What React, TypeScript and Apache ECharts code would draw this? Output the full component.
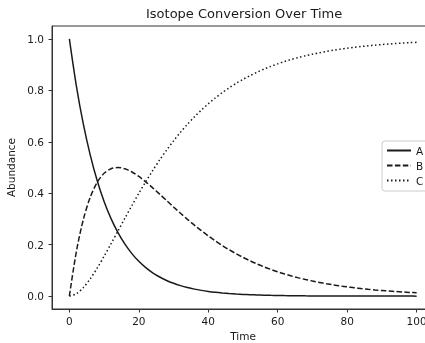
import React, { useEffect, useRef } from "react";
import * as echarts from "echarts";

const time = [0,2,4,6,8,10,12,14,16,18,20,22,24,26,28,30,32,34,36,38,40,42,44,46,48,50,52,54,56,58,60,62,64,66,68,70,72,74,76,78,80,82,84,86,88,90,92,94,96,98,100];
const seriesA = [1,0.8187,0.6703,0.5488,0.4493,0.3679,0.3012,0.2466,0.2019,0.1653,0.1353,0.1108,0.0907,0.0743,0.0608,0.0498,0.0408,0.0334,0.0273,0.0224,0.0183,0.0150,0.0123,0.0101,0.0082,0.0067,0.0055,0.0045,0.0037,0.0030,0.0025,0.0020,0.0017,0.0014,0.0011,0.0009,0.0007,0.0006,0.0005,0.0004,0.0003,0.0003,0.0002,0.0002,0.0002,0.0001,0.0001,0.0001,0.0001,0.0001,0];
const seriesB = [0,0.1722,0.2968,0.3840,0.4420,0.4773,0.4952,0.5000,0.4948,0.4826,0.4651,0.4442,0.4210,0.3964,0.3716,0.3466,0.3222,0.2986,0.2760,0.2544,0.2340,0.2150,0.1970,0.1804,0.1650,0.1508,0.1376,0.1254,0.1142,0.1040,0.0946,0.0860,0.0782,0.0710,0.0646,0.0586,0.0532,0.0482,0.0438,0.0396,0.0360,0.0326,0.0296,0.0268,0.0242,0.0220,0.0200,0.0180,0.0162,0.0146,0.0134];
const seriesC = [0,0.0091,0.0329,0.0672,0.1087,0.1548,0.2036,0.2534,0.3033,0.3521,0.3996,0.4450,0.4883,0.5293,0.5676,0.6036,0.6370,0.6680,0.6967,0.7232,0.7477,0.7700,0.7907,0.8095,0.8268,0.8425,0.8569,0.8701,0.8821,0.8930,0.9029,0.9120,0.9201,0.9276,0.9343,0.9405,0.9461,0.9512,0.9557,0.9600,0.9637,0.9671,0.9702,0.9730,0.9756,0.9779,0.9799,0.9819,0.9837,0.9853,0.9866];
const xTicks = [0, 20, 40, 60, 80, 100];
const yTicks = [0, 0.2, 0.4, 0.6, 0.8, 1.0];
const names = ["A", "B", "C"];

const FONT = "DejaVu Sans";
const INK = "#1a1a1a";
const SPINE = "#333";

export default function App() {
  const ref = useRef<HTMLDivElement>(null);
  useEffect(() => {
    if (!ref.current) return;
    const chart = echarts.init(ref.current, undefined, { renderer: "svg" });
    const mk = (vals: number[]) => time.map((t, i) => [t, vals[i]]);
    const styles: any[] = ["solid", [5.5, 2.4], [1.5, 2.5]];
    const all = [seriesA, seriesB, seriesC];
    chart.setOption({
      animation: false,
      title: {
        text: "Isotope Conversion Over Time",
        left: 146,
        top: 5,
        padding: [2, 0, 2, 0],
        textStyle: { fontFamily: FONT, fontSize: 13, fontWeight: "normal", color: INK },
      },
      grid: {
        left: 52, right: -9, top: 26, bottom: 34,
        containLabel: false,
        outerBoundsMode: "none",
        show: true, borderColor: SPINE, borderWidth: 1, backgroundColor: "transparent",
      },
      legend: {
        orient: "vertical",
        left: 382,
        top: 141,
        itemWidth: 24,
        itemHeight: 10,
        itemGap: 4,
        padding: [4, 6, 5, 4],
        backgroundColor: "#fff",
        borderColor: "#ccc",
        borderWidth: 1,
        borderRadius: 3,
        itemStyle: { opacity: 0 },
        textStyle: { fontFamily: FONT, fontSize: 10.5, color: INK },
        data: names,
      },
      xAxis: {
        type: "value",
        min: -5,
        max: 105,
        name: "Time",
        nameLocation: "middle",
        nameGap: 20,
        nameTextStyle: { fontFamily: FONT, fontSize: 10.5, color: INK },
        axisLine: { show: true, onZero: false, lineStyle: { color: SPINE, width: 1 } },
        axisTick: { show: true, length: 3.5, lineStyle: { color: SPINE }, customValues: xTicks },
        axisLabel: { fontFamily: FONT, fontSize: 10.5, color: INK, margin: 6, customValues: xTicks },
        splitLine: { show: false },
      },
      yAxis: {
        type: "value",
        min: -0.05,
        max: 1.05,
        name: "Abundance",
        nameLocation: "middle",
        nameGap: 27,
        nameTextStyle: { fontFamily: FONT, fontSize: 10.5, color: INK },
        axisLine: { show: true, onZero: false, lineStyle: { color: SPINE, width: 1 } },
        axisTick: { show: true, length: 3.5, lineStyle: { color: SPINE }, customValues: yTicks },
        axisLabel: { fontFamily: FONT, fontSize: 10.5, color: INK, margin: 8, customValues: yTicks, formatter: (v: number) => v.toFixed(1) },
        splitLine: { show: false },
      },
      series: names.map((n, i) => ({
        name: n,
        type: "line",
        data: mk(all[i]),
        showSymbol: false,
        symbol: "none",
        smooth: 0.3,
        lineStyle: { color: INK, width: 1.5, type: styles[i] },
        itemStyle: { color: INK },
      })),
    });
    return () => chart.dispose();
  }, []);
  return <div ref={ref} style={{ position: "fixed", left: 0, top: 0, width: 425, height: 343 }} />;
}
